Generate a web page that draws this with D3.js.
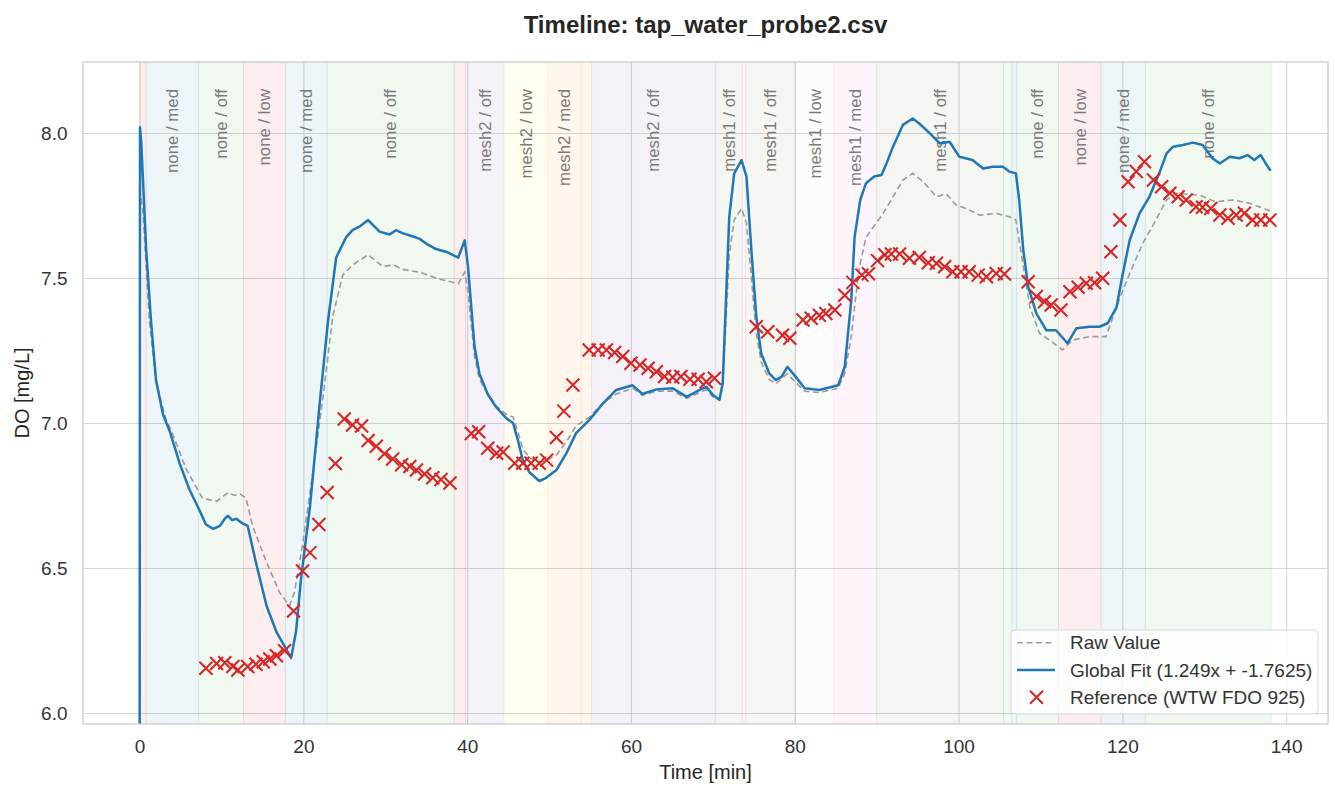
<!DOCTYPE html>
<html>
<head>
<meta charset="utf-8">
<script src="https://d3js.org/d3.v7.min.js"></script>
<style>
	body { margin: 0; background: #fff; }
	svg text { font-family: "Liberation Sans", Arial, Helvetica, sans-serif; }
</style>
</head>
<body>
<div id="chart"></div>
<script>

/*
 * Data (time in minutes, DO in mg/L)
 */

var fitMinutes = [0, 0.05, 0.2, 0.8, 1.4, 2.0, 2.85, 3.7, 4.9, 6.1, 7.3, 8.1, 9.0, 9.8, 10.4, 10.8, 11.3, 11.8, 12.5, 13.2,
	14.2, 15.5, 16.7, 17.9, 18.5, 19.1, 19.7, 20.8, 22.0, 23.0, 24.0, 25.2, 26.0, 27.0, 27.9, 28.6, 29.3, 30.5, 31.3, 32.1,
	33.2, 34.2, 35.2, 36.2, 37.5, 38.9, 39.7, 40.1, 40.5, 40.9, 41.5, 42.5, 43.5, 44.8, 45.6, 46.2, 46.8, 47.6, 48.8, 49.6,
	50.9, 52.1, 53.3, 54.9, 56.6, 58.2, 60.2, 61.4, 63.1, 65.1, 66.8, 68.4, 69.2, 70.0, 70.8, 71.2, 71.6, 72.0, 72.6, 73.5,
	74.1, 74.7, 75.3, 75.9, 76.9, 77.7, 78.4, 79.1, 80.1, 81.2, 83.0, 85.3, 86.1, 86.9, 87.3, 88.0, 88.7, 89.7, 90.6, 91.2,
	92.0, 93.2, 94.4, 95.2, 96.5, 97.7, 98.9, 100.1, 101.7, 103.0, 104.2, 105.4, 106.2, 107.0, 107.4, 107.9, 108.5, 109.5, 110.7, 111.9,
	113.3, 114.4, 116.0, 117.2, 118.2, 119.3, 119.9, 120.9, 122.1, 123.3, 124.5, 125.4, 126.2, 127.4, 128.6, 129.8, 131.0, 131.9, 133.1, 134.3,
	135.3, 136.1, 136.9, 137.5, 138.1];
var fitDO = [5.5, 8.02, 7.97, 7.6, 7.35, 7.15, 7.03, 6.97, 6.86, 6.77, 6.70, 6.65, 6.635, 6.645, 6.67, 6.68, 6.665, 6.67, 6.655, 6.645,
	6.52, 6.37, 6.28, 6.22, 6.19, 6.28, 6.46, 6.71, 7.07, 7.35, 7.57, 7.64, 7.665, 7.68, 7.70, 7.68, 7.66, 7.65, 7.665, 7.655,
	7.645, 7.635, 7.615, 7.60, 7.59, 7.57, 7.63, 7.54, 7.40, 7.263, 7.17, 7.10, 7.056, 7.016, 7.0, 6.94, 6.87, 6.83, 6.80, 6.81,
	6.838, 6.895, 6.965, 7.01, 7.068, 7.114, 7.13, 7.10, 7.116, 7.12, 7.09, 7.114, 7.125, 7.097, 7.08, 7.137, 7.424, 7.71, 7.86, 7.907,
	7.85, 7.597, 7.367, 7.24, 7.17, 7.148, 7.16, 7.194, 7.16, 7.12, 7.114, 7.13, 7.194, 7.424, 7.64, 7.77, 7.827, 7.85, 7.855, 7.895,
	7.953, 8.028, 8.05, 8.033, 7.999, 7.964, 7.97, 7.918, 7.907, 7.878, 7.884, 7.884, 7.867, 7.861, 7.77, 7.597, 7.47, 7.378, 7.32, 7.32,
	7.275, 7.327, 7.332, 7.332, 7.344, 7.40, 7.493, 7.631, 7.723, 7.78, 7.861, 7.93, 7.953, 7.959, 7.967, 7.959, 7.913, 7.895, 7.918, 7.913,
	7.924, 7.907, 7.924, 7.895, 7.87];

var rawMinutes = [0, 0.05, 0.4, 1.2, 2.0, 3.2, 4.0, 5.7, 7.7, 8.6, 9.4, 10.8, 11.6, 12.3, 13.0, 13.8, 15.5, 17.1, 18.3, 18.9,
	19.9, 21.2, 22.4, 23.6, 24.8, 26.0, 27.9, 29.7, 31.0, 32.1, 34.2, 36.2, 38.9, 39.7, 40.1, 40.5, 40.9, 41.5, 42.5, 43.5,
	44.8, 45.6, 46.2, 46.8, 47.6, 48.8, 49.6, 50.9, 52.1, 53.3, 54.9, 56.6, 58.2, 60.2, 61.4, 63.1, 65.1, 66.8, 68.4, 69.2,
	70.0, 70.8, 71.2, 71.6, 72.0, 72.6, 73.5, 74.1, 74.7, 75.3, 75.9, 76.9, 77.7, 79.1, 80.1, 81.2, 83.0, 85.3, 86.1, 86.9,
	87.3, 87.9, 88.7, 89.7, 90.8, 92.0, 93.2, 94.4, 95.7, 97.3, 98.5, 99.7, 100.9, 102.6, 104.6, 106.2, 107.0, 107.9, 108.7, 109.9,
	111.1, 112.7, 113.9, 116.0, 118.0, 119.6, 120.9, 122.5, 124.1, 125.4, 126.6, 129.4, 131.4, 133.5, 135.5, 136.7, 138.1];
var rawDO = [5.5, 7.80, 7.73, 7.35, 7.14, 7.015, 6.965, 6.84, 6.74, 6.735, 6.73, 6.76, 6.75, 6.755, 6.74, 6.645, 6.52, 6.415, 6.37, 6.415,
	6.58, 6.84, 7.09, 7.37, 7.51, 7.545, 7.58, 7.54, 7.545, 7.53, 7.52, 7.50, 7.48, 7.52, 7.45, 7.34, 7.23, 7.15, 7.10, 7.06,
	7.03, 7.02, 6.97, 6.91, 6.88, 6.865, 6.87, 6.89, 6.935, 6.99, 7.02, 7.07, 7.10, 7.12, 7.095, 7.11, 7.11, 7.085, 7.105, 7.115,
	7.09, 7.08, 7.125, 7.35, 7.58, 7.70, 7.74, 7.69, 7.50, 7.31, 7.21, 7.15, 7.135, 7.17, 7.14, 7.11, 7.105, 7.12, 7.17, 7.30,
	7.40, 7.54, 7.64, 7.68, 7.723, 7.78, 7.838, 7.861, 7.832, 7.78, 7.79, 7.752, 7.74, 7.717, 7.723, 7.711, 7.70, 7.54, 7.40, 7.309,
	7.286, 7.252, 7.286, 7.298, 7.298, 7.424, 7.516, 7.62, 7.70, 7.77, 7.792, 7.786, 7.763, 7.769, 7.758, 7.746, 7.73];

var refMinutes = [8.1, 9.4, 10.4, 11.4, 12.0, 13.2, 14.2, 15.1, 15.9, 16.7, 17.7, 18.8, 19.9, 20.8, 21.9, 22.9, 23.9, 25.0, 26.0, 27.1,
	27.9, 28.9, 29.9, 30.9, 32.0, 33.0, 33.8, 34.8, 35.8, 36.8, 37.9, 40.5, 41.4, 42.5, 43.6, 44.4, 45.8, 46.8, 47.8, 48.8,
	49.7, 50.9, 51.8, 52.9, 54.9, 56.0, 57.0, 58.0, 59.0, 60.0, 61.1, 62.1, 63.1, 64.1, 65.1, 66.1, 67.2, 68.2, 69.2, 70.2,
	75.3, 76.7, 78.5, 79.4, 81.0, 82.0, 83.0, 83.8, 84.9, 86.1, 87.1, 88.2, 89.0, 90.1, 91.0, 91.8, 92.8, 94.0, 95.2, 96.3,
	97.3, 98.3, 99.3, 100.3, 101.3, 102.4, 103.4, 104.6, 105.6, 108.5, 109.5, 110.5, 111.3, 112.5, 113.6, 114.6, 115.6, 116.6, 117.6, 118.6,
	119.7, 120.7, 121.7, 122.7, 123.8, 124.8, 125.8, 126.8, 127.8, 129.0, 129.8, 130.8, 131.9, 132.9, 133.9, 134.9, 135.9, 136.9, 138.0];
var refDO = [6.154, 6.171, 6.173, 6.16, 6.148, 6.16, 6.168, 6.177, 6.186, 6.197, 6.215, 6.352, 6.49, 6.553, 6.65, 6.76, 6.86, 7.014, 6.993, 6.99,
	6.94, 6.92, 6.894, 6.876, 6.856, 6.85, 6.838, 6.824, 6.811, 6.805, 6.793, 6.964, 6.97, 6.913, 6.896, 6.90, 6.861, 6.861, 6.861, 6.861,
	6.872, 6.95, 7.041, 7.131, 7.252, 7.252, 7.252, 7.243, 7.229, 7.206, 7.20, 7.189, 7.177, 7.16, 7.158, 7.16, 7.151, 7.151, 7.142, 7.154,
	7.332, 7.315, 7.303, 7.292, 7.355, 7.361, 7.372, 7.378, 7.39, 7.441, 7.485, 7.51, 7.515, 7.56, 7.58, 7.583, 7.583, 7.568, 7.571, 7.553,
	7.551, 7.539, 7.522, 7.522, 7.522, 7.51, 7.504, 7.516, 7.514, 7.487, 7.436, 7.418, 7.407, 7.39, 7.453, 7.468, 7.482, 7.484, 7.499, 7.591,
	7.70, 7.832, 7.867, 7.901, 7.838, 7.815, 7.792, 7.78, 7.769, 7.746, 7.744, 7.74, 7.717, 7.706, 7.717, 7.723, 7.70, 7.70, 7.70];

// condition phases (mesh / aeration)
var bandStart = [0, 0.8, 7.2, 12.7, 17.8, 22.9, 38.4, 39.8, 44.5, 49.8, 53.9, 55.2, 70.3, 73.6, 74.0, 80.1, 84.8, 90.0, 105.5, 106.5, 107.1, 112.2, 117.4, 122.8];
var bandEnd = [0.8, 7.2, 12.7, 17.8, 22.9, 38.4, 39.8, 44.5, 49.8, 53.9, 55.2, 70.3, 73.6, 74.0, 80.1, 84.8, 90.0, 105.5, 106.5, 107.1, 112.2, 117.4, 122.8, 138.2];
var bandLabel = ["none / low", "none / med", "none / off", "none / low", "none / med", "none / off", "none / low", "mesh2 / off",
	"mesh2 / low", "mesh2 / med", "mesh2 / med", "mesh2 / off", "mesh1 / off", "mesh1 / med", "mesh1 / off", "mesh1 / low",
	"mesh1 / med", "mesh1 / off", "none / off", "none / med", "none / off", "none / low", "none / med", "none / off"];

var xTicks = [0, 20, 40, 60, 80, 100, 120, 140];
var yTicks = [6.0, 6.5, 7.0, 7.5, 8.0];

var legendLabels = ["Raw Value", "Global Fit (1.249x + -1.7625)", "Reference (WTW FDO 925)"];


/*
 * TimelineChart - Object constructor function
 * @param _parentElement 	-- the HTML element in which to draw the chart
 */

TimelineChart = function(_parentElement){
	this.parentElement = _parentElement;

	this.initVis();
}

/*
 * Initialize visualization (static content; e.g. SVG area, axes)
 */

TimelineChart.prototype.initVis = function(){
	var vis = this;

	vis.margin = {top: 62, right: 7, bottom: 63, left: 83};
	vis.width = 1335 - vis.margin.left - vis.margin.right;
	vis.height = 787 - vis.margin.top - vis.margin.bottom;

	vis.svg = d3.select("#" + vis.parentElement).append("svg")
		.attr("width", 1335)
		.attr("height", 787);

	vis.g = vis.svg.append("g")
		.attr("transform", "translate(" + vis.margin.left + "," + vis.margin.top + ")");

	vis.x = d3.scaleLinear().domain([-6.91, 145.11]).range([0, vis.width]);
	vis.y = d3.scaleLinear().domain([5.962, 8.245]).range([vis.height, 0]);

	vis.bandColor = {
		"none / med": "rgba(31,119,180,0.075)",
		"none / off": "rgba(44,160,44,0.07)",
		"none / low": "rgba(214,39,40,0.08)",
		"mesh2 / off": "rgba(148,103,189,0.09)",
		"mesh2 / low": "rgba(255,235,59,0.07)",
		"mesh2 / med": "rgba(255,127,14,0.07)",
		"mesh1 / off": "rgba(120,110,60,0.07)",
		"mesh1 / low": "rgba(127,127,127,0.025)",
		"mesh1 / med": "rgba(227,119,194,0.07)"
	};

	vis.svg.append("defs").append("clipPath").attr("id", "plot-clip")
		.append("rect").attr("width", vis.width).attr("height", vis.height);

	vis.wrangleData();
}

/*
 * Data wrangling
 */

TimelineChart.prototype.wrangleData = function(){
	var vis = this;

	vis.fitData = fitMinutes.map(function(t, i){ return {t: t, v: fitDO[i]}; });
	vis.rawData = rawMinutes.map(function(t, i){ return {t: t, v: rawDO[i]}; });
	vis.refData = refMinutes.map(function(t, i){ return {t: t, v: refDO[i]}; });
	vis.bands = bandStart.map(function(s, i){ return {start: s, end: bandEnd[i], label: bandLabel[i]}; });

	vis.updateVis();
}

/*
 * The drawing function
 */

TimelineChart.prototype.updateVis = function(){
	var vis = this;

	// grid
	vis.g.append("g")
		.attr("class", "grid")
		.attr("transform", "translate(0," + vis.height + ")")
		.call(d3.axisBottom(vis.x).tickValues(xTicks).tickSize(-vis.height).tickFormat(""));
	vis.g.append("g")
		.attr("class", "grid")
		.call(d3.axisLeft(vis.y).tickValues(yTicks).tickSize(-vis.width).tickFormat(""));
	vis.g.selectAll(".grid .domain").remove();
	vis.g.selectAll(".grid line").attr("stroke", "#d6d6d6").attr("stroke-width", 1.1);

	// phase bands
	var plot = vis.g.append("g").attr("clip-path", "url(#plot-clip)");

	plot.selectAll("rect.band")
		.data(vis.bands)
		.enter()
		.append("rect")
		.attr("class", "band")
		.attr("x", function(d){ return vis.x(d.start); })
		.attr("y", 0)
		.attr("width", function(d){ return vis.x(d.end) - vis.x(d.start); })
		.attr("height", vis.height)
		.attr("fill", function(d){ return vis.bandColor[d.label]; })
		.attr("stroke", function(d){ return vis.bandColor[d.label]; })
		.attr("stroke-width", 1);

	plot.selectAll("text.band-label")
		.data(vis.bands.filter(function(d){ return d.end - d.start > 2; }))
		.enter()
		.append("text")
		.attr("class", "band-label")
		.attr("transform", function(d){
			return "translate(" + vis.x((d.start + d.end) / 2) + ",27) rotate(-90)";
		})
		.attr("text-anchor", "end")
		.attr("dy", "0.35em")
		.attr("font-size", "16.8px")
		.attr("fill", "#7a7a7a")
		.text(function(d){ return d.label; });

	// lines
	var line = d3.line()
		.x(function(d){ return vis.x(d.t); })
		.y(function(d){ return vis.y(d.v); });

	plot.append("path")
		.datum(vis.rawData)
		.attr("d", line)
		.attr("fill", "none")
		.attr("stroke", "#9b9b9b")
		.attr("stroke-width", 1.6)
		.attr("stroke-dasharray", "6,3.5");

	plot.append("path")
		.datum(vis.fitData)
		.attr("d", line)
		.attr("fill", "none")
		.attr("stroke", "#1f77b4")
		.attr("stroke-width", 2.5)
		.attr("stroke-linejoin", "round");

	// reference markers
	var cross = "M-6.5,-6.5L6.5,6.5M-6.5,6.5L6.5,-6.5";
	plot.selectAll("path.ref")
		.data(vis.refData)
		.enter()
		.append("path")
		.attr("class", "ref")
		.attr("transform", function(d){ return "translate(" + vis.x(d.t) + "," + vis.y(d.v) + ")"; })
		.attr("d", cross)
		.attr("stroke", "#d62728")
		.attr("stroke-width", 2.1)
		.attr("fill", "none");

	// frame
	vis.g.append("rect")
		.attr("width", vis.width)
		.attr("height", vis.height)
		.attr("fill", "none")
		.attr("stroke", "#cccccc")
		.attr("stroke-width", 1.3);

	// tick labels
	var xAxis = vis.g.append("g")
		.attr("transform", "translate(0," + vis.height + ")")
		.call(d3.axisBottom(vis.x).tickValues(xTicks).tickSize(0).tickPadding(16).tickFormat(d3.format("d")));
	var yAxis = vis.g.append("g")
		.call(d3.axisLeft(vis.y).tickValues(yTicks).tickSize(0).tickPadding(15.5).tickFormat(d3.format(".1f")));
	[xAxis, yAxis].forEach(function(a){
		a.select(".domain").remove();
		a.selectAll("text")
			.attr("font-size", "19px")
			.attr("fill", "#333")
			.attr("font-family", "'Liberation Sans', Arial, sans-serif");
	});

	// axis titles
	vis.svg.append("text")
		.attr("x", vis.margin.left + vis.width / 2)
		.attr("y", 779)
		.attr("text-anchor", "middle")
		.attr("font-size", "20px")
		.attr("fill", "#262626")
		.text("Time [min]");

	vis.svg.append("text")
		.attr("transform", "translate(29," + (vis.margin.top + vis.height / 2) + ") rotate(-90)")
		.attr("text-anchor", "middle")
		.attr("font-size", "20px")
		.attr("fill", "#262626")
		.text("DO [mg/L]");

	vis.svg.append("text")
		.attr("x", vis.margin.left + vis.width / 2)
		.attr("y", 33)
		.attr("text-anchor", "middle")
		.attr("font-size", "24px")
		.attr("font-weight", "bold")
		.attr("fill", "#262626")
		.text("Timeline: tap_water_probe2.csv");

	// legend
	var legend = vis.svg.append("g").attr("transform", "translate(1011,630)");
	legend.append("rect")
		.attr("width", 307)
		.attr("height", 84)
		.attr("rx", 4)
		.attr("fill", "rgba(255,255,255,0.8)")
		.attr("stroke", "#d9d9d9")
		.attr("stroke-width", 1);

	var rows = legend.selectAll("g.row")
		.data(legendLabels)
		.enter()
		.append("g")
		.attr("class", "row")
		.attr("transform", function(d, i){ return "translate(0," + (12.7 + i * 27.3) + ")"; });

	rows.append("text")
		.attr("x", 59)
		.attr("dy", "0.35em")
		.attr("font-size", "19px")
		.attr("fill", "#333")
		.text(function(d){ return d; });

	rows.filter(function(d, i){ return i === 0; }).append("line")
		.attr("x1", 6).attr("x2", 44)
		.attr("stroke", "#9b9b9b").attr("stroke-width", 1.6).attr("stroke-dasharray", "6,3.5");
	rows.filter(function(d, i){ return i === 1; }).append("line")
		.attr("x1", 6).attr("x2", 44)
		.attr("stroke", "#1f77b4").attr("stroke-width", 2.5);
	rows.filter(function(d, i){ return i === 2; }).append("path")
		.attr("transform", "translate(25.5,0)")
		.attr("d", cross)
		.attr("stroke", "#d62728").attr("stroke-width", 2.1).attr("fill", "none");
}

var chart = new TimelineChart("chart");

</script>
</body>
</html>
